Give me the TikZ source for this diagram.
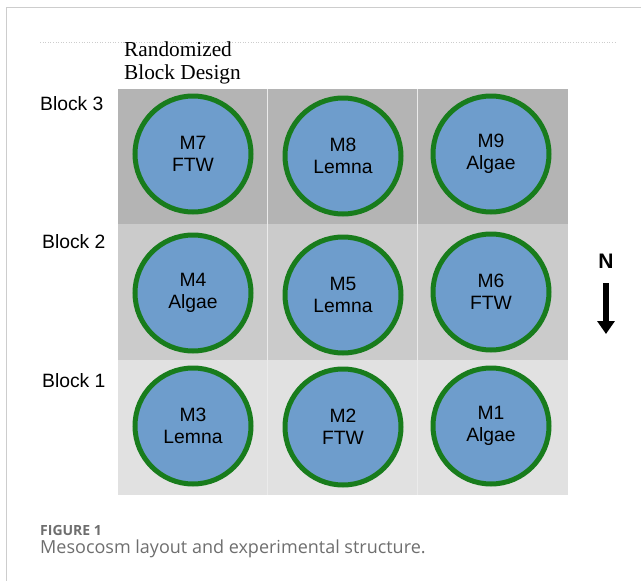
\documentclass[tikz,border=0pt]{standalone}
\usepackage{fontspec}
\usepackage{xcolor}
\usepackage{tikz}
\usetikzlibrary{arrows.meta, positioning}
\setsansfont{Liberation Sans}
\newfontfamily\titlefont{Liberation Serif}
\newfontfamily\capfont{Open Sans}
\definecolor{rowdark}{RGB}{180,180,180}
\definecolor{rowmid}{RGB}{203,203,203}
\definecolor{rowlight}{RGB}{225,225,225}
\definecolor{cellline}{RGB}{235,235,235}
\definecolor{potblue}{RGB}{110,157,204}
\definecolor{potgreen}{RGB}{24,124,28}
\definecolor{framegray}{RGB}{205,205,205}
\definecolor{capgray}{RGB}{110,110,110}
\tikzset{
  pot/.style={circle, draw=potgreen, fill=potblue, line width=5pt,
    minimum size=116pt, inner sep=0pt, align=center,
    font=\sffamily\fontsize{19.3}{22.5}\selectfont},
  blocklabel/.style={anchor=west, inner sep=0pt,
    font=\sffamily\fontsize{19.3}{22}\selectfont},
  northarrow/.style={-{Triangle[width=17pt,length=13pt]}, line width=5.5pt, color=black},
  frameline/.style={color=framegray, line width=0.8pt}
}
\begin{document}
\begin{tikzpicture}[x=1pt, y=-1pt]
  \useasboundingbox (0,0) rectangle (641,581);
  % page frame and rule
  \draw[frameline] (6,581) -- (6,7) -- (641,7);
  \draw[framegray, dotted, line width=0.6pt] (40,42) -- (615,42);
  % block rows
  \fill[rowdark]  (118,89)  rectangle (568,224);
  \fill[rowmid]   (118,224) rectangle (568,360);
  \fill[rowlight] (118,360) rectangle (568,495);
  \draw[cellline, line width=0.8pt] (267,89) -- (267,495);
  \draw[cellline, line width=0.8pt] (417,89) -- (417,495);
  % title
  \node[anchor=west, align=left, inner sep=0pt,
    font=\titlefont\fontsize{21.3}{23}\selectfont] (title) at (124,63)
    {Randomized\\Block Design};
  % block labels
  \node[blocklabel] (b3) at (40,104) {Block 3};
  \node[blocklabel] (b2) at (42,242) {Block 2};
  \node[blocklabel] (b1) at (42,381) {Block 1};
  % mesocosms
  \node[pot] (m7) at (193,154) {M7\\FTW};
  \node[pot] (m8) at (343,156) {M8\\Lemna};
  \node[pot] (m9) at (491,154) {M9\\Algae};
  \node[pot] (m4) at (193,293) {M4\\Algae};
  \node[pot] (m5) at (343,295) {M5\\Lemna};
  \node[pot] (m6) at (491,292) {M6\\FTW};
  \node[pot] (m3) at (193,426) {M3\\Lemna};
  \node[pot] (m2) at (343,427) {M2\\FTW};
  \node[pot] (m1) at (491,426) {M1\\Algae};
  % north arrow
  \node[font=\sffamily\bfseries\fontsize{21}{24}\selectfont, inner sep=0pt] (north) at (606,261) {N};
  \coordinate (ntop) at (606,283);
  \coordinate (nbot) at (606,334);
  \draw[northarrow] (ntop) -- (nbot);
  % caption
  \node[anchor=west, inner sep=0pt, text=capgray,
    font=\capfont\bfseries\fontsize{14}{17}\selectfont] (figno) at (40,530) {FIGURE 1};
  \node[anchor=west, inner sep=0pt, text=capgray,
    font=\capfont\fontsize{18}{21}\selectfont] (caption) at (40,549)
    {Mesocosm layout and experimental structure.};
\end{tikzpicture}
\end{document}
